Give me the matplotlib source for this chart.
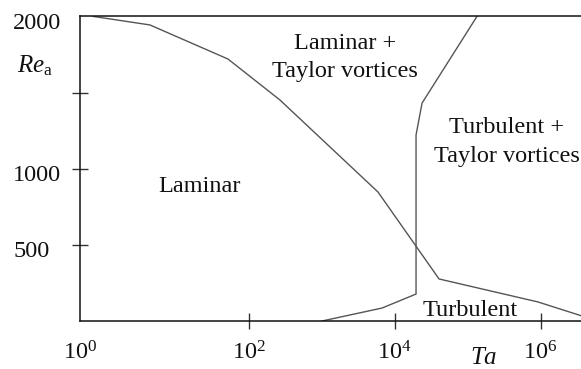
import numpy as np
import matplotlib
matplotlib.use("Agg")
import matplotlib.pyplot as plt
from matplotlib.ticker import FixedLocator, NullLocator
import matplotlib.transforms as mtransforms

plt.rcParams['font.family'] = ['Liberation Serif', 'DejaVu Serif']
plt.rcParams['mathtext.fontset'] = 'custom'
plt.rcParams['mathtext.rm'] = 'Liberation Serif'
plt.rcParams['mathtext.it'] = 'Liberation Serif:italic'

# Boundary between laminar flow and the vortex / turbulent regimes
ta_laminar = [1.42, 6.7, 56.8, 268, 5900, 40500, 918000, 3.56e6]
re_laminar = [2000, 1944, 1720, 1451, 847, 276, 125, 35]

# Boundary between the Taylor-vortex regimes and turbulence
ta_turb = [1010, 6700, 19600, 19600, 23700, 134000]
re_turb = [0, 85, 177, 1221, 1431, 2000]

x_ticks = [1, 1e2, 1e4, 1e6]
x_labels = [r'$\mathrm{10^{0}}$', r'$\mathrm{10^{2}}$', r'$\mathrm{10^{4}}$', r'$\mathrm{10^{6}}$']
y_ticks = [500, 1000, 1500, 2000]
y_labels = ['500', '1000', '', '2000']

regions = [
    ("Laminar", 26.3, 880),
    ("Laminar +\nTaylor vortices", 2085, 1730),
    ("Turbulent +\nTaylor vortices", 345000, 1175),
    ("Turbulent", 107000, 72),
]

# Decade spacing of the sketch: the first two decades are drawn wider
_log_knots = np.array([-10.0, 0.0, 2.0, 20.0])
_pos_knots = np.array([-10.0 * 1.1534, 0.0, 2.307, 20.307])


def fwd(x):
    lx = np.log10(np.clip(np.asarray(x, dtype=float), 1e-300, None))
    return np.interp(lx, _log_knots, _pos_knots)


def inv(u):
    return 10.0 ** np.interp(np.asarray(u, dtype=float), _pos_knots, _log_knots)


fig = plt.figure(figsize=(5.81, 3.69), dpi=100)
ax = fig.add_axes([80.3 / 581, 1 - 321 / 369, 1 - 80.3 / 581, (321 - 16.4) / 369])
ax.set_xscale('function', functions=(fwd, inv))

line_kw = dict(color='#555555', lw=1.0, solid_joinstyle='miter')
ax.plot(ta_laminar, re_laminar, **line_kw)
ax.plot(ta_turb, re_turb, **line_kw)

ax.set_xlim(1, 10 ** 6.552)
ax.set_ylim(0, 2000)

ax.spines['right'].set_visible(False)
for s in ['left', 'top', 'bottom']:
    ax.spines[s].set_color('#111111')
    ax.spines[s].set_linewidth(1.1)

ax.xaxis.set_major_locator(FixedLocator(x_ticks))
ax.xaxis.set_minor_locator(NullLocator())
ax.set_xticklabels(x_labels)
ax.yaxis.set_major_locator(FixedLocator(y_ticks))
ax.yaxis.set_minor_locator(NullLocator())
ax.set_yticklabels(y_labels)

ax.tick_params(axis='both', direction='inout', length=12, width=1.0,
               color='#333333', labelsize=17.5, labelcolor='#111111')
ax.tick_params(axis='x', pad=8.5)
ax.tick_params(axis='y', pad=42.4)
for lab in ax.get_yticklabels():
    lab.set_horizontalalignment('left')
    lab.set_transform(lab.get_transform() +
                      mtransforms.ScaledTranslation(0, -3 / 72, fig.dpi_scale_trans))

# No tick marks at the axis corner / top
ax.xaxis.get_major_ticks()[0].tick1line.set_visible(False)
ax.yaxis.get_major_ticks()[3].tick1line.set_visible(False)

ax.text(0.806, -0.122, r'$Ta$', transform=ax.transAxes, ha='center', va='center',
        fontsize=18, color='#111111', clip_on=False)
ax.text(-0.0905, 0.837, r'$Re_{\mathrm{a}}$', transform=ax.transAxes, ha='center',
        va='center', fontsize=18, color='#111111', clip_on=False)

for label, tx, ry in regions:
    ax.text(tx, ry, label, ha='center', va='center', multialignment='center',
            fontsize=17.5, color='#111111', linespacing=1.45)

fig.savefig('out.png', dpi=100)
